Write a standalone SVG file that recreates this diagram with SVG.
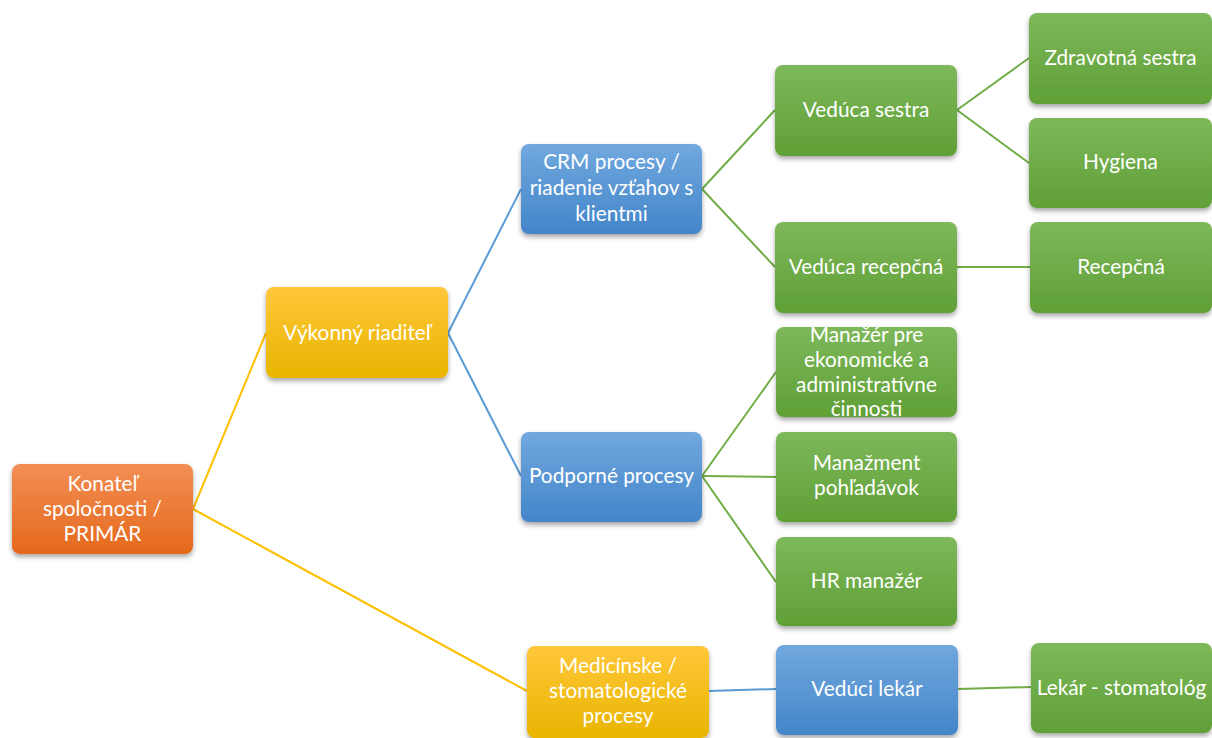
<svg xmlns="http://www.w3.org/2000/svg" width="1212" height="738" viewBox="0 0 1212 738">
<defs>
<linearGradient id="gOrange" x1="0" y1="0" x2="0" y2="1"><stop offset="0" stop-color="#F28E54"/><stop offset="1" stop-color="#E5691C"/></linearGradient>
<linearGradient id="gYellow" x1="0" y1="0" x2="0" y2="1"><stop offset="0" stop-color="#FFC73A"/><stop offset="1" stop-color="#E9B500"/></linearGradient>
<linearGradient id="gBlue" x1="0" y1="0" x2="0" y2="1"><stop offset="0" stop-color="#71A8DE"/><stop offset="1" stop-color="#4385C9"/></linearGradient>
<linearGradient id="gGreen" x1="0" y1="0" x2="0" y2="1"><stop offset="0" stop-color="#7DB85B"/><stop offset="1" stop-color="#60A036"/></linearGradient>
<filter id="sh" x="-10%" y="-10%" width="120%" height="130%"><feDropShadow dx="0" dy="3" stdDeviation="2.5" flood-color="#000" flood-opacity="0.35"/></filter>
</defs>
<style>
.box{filter:url(#sh);}
.o{fill:url(#gOrange);}
.y{fill:url(#gYellow);}
.b{fill:url(#gBlue);}
.g{fill:url(#gGreen);}
text{font-family:Lato,"Liberation Sans",sans-serif;font-size:20.8px;fill:#fff;text-anchor:middle;}
.c{fill:none;stroke-width:2;}
.cy{stroke:#FFC000;}
.cb{stroke:#5B9BD5;}
.cg{stroke:#70AD47;}
</style>
<rect width="1212" height="738" fill="#fff"/>
<g id="connectors">
<path class="c cy" d="M193,509 L266,333"/>
<path class="c cy" d="M193,509 L527,691"/>
<path class="c cb" d="M448,333 L521,189"/>
<path class="c cb" d="M448,333 L521,476"/>
<path class="c cb" d="M709,691 L776,689"/>
<path class="c cg" d="M702,189 L775,110"/>
<path class="c cg" d="M702,189 L775,267"/>
<path class="c cg" d="M957,110 L1029,58"/>
<path class="c cg" d="M957,110 L1029,163"/>
<path class="c cg" d="M957,267 L1030,267"/>
<path class="c cg" d="M702,476 L776,372"/>
<path class="c cg" d="M702,476 L776,477"/>
<path class="c cg" d="M702,476 L776,582"/>
<path class="c cg" d="M958,689 L1031,687"/>
</g>
<g id="n_konatel"><rect class="box o" x="12" y="464" width="181" height="90" rx="8"/><text x="102.5" y="491">Konateľ</text><text x="102.5" y="516">spoločnosti /</text><text x="102.5" y="541">PRIMÁR</text></g>
<g id="n_vykonny"><rect class="box y" x="266" y="287" width="182" height="91" rx="8"/><text x="357" y="340">Výkonný riaditeľ</text></g>
<g id="n_crm"><rect class="box b" x="521" y="144" width="181" height="90" rx="8"/><text x="611.5" y="169">CRM procesy /</text><text x="611.5" y="195">riadenie vzťahov s</text><text x="611.5" y="221">klientmi</text></g>
<g id="n_podporne"><rect class="box b" x="521" y="432" width="181" height="90" rx="8"/><text x="611.5" y="483">Podporné procesy</text></g>
<g id="n_medicinske"><rect class="box y" x="527" y="646" width="182" height="92" rx="8"/><text x="618" y="673">Medicínske /</text><text x="618" y="698">stomatologické</text><text x="618" y="723">procesy</text></g>
<g id="n_veduca_sestra"><rect class="box g" x="775" y="65" width="182" height="91" rx="8"/><text x="866" y="117">Vedúca sestra</text></g>
<g id="n_zdravotna"><rect class="box g" x="1029" y="13" width="183" height="91" rx="8"/><text x="1120.5" y="65">Zdravotná sestra</text></g>
<g id="n_hygiena"><rect class="box g" x="1029" y="118" width="183" height="90" rx="8"/><text x="1120.5" y="169">Hygiena</text></g>
<g id="n_veduca_recepcna"><rect class="box g" x="775" y="222" width="182" height="91" rx="8"/><text x="866" y="274">Vedúca recepčná</text></g>
<g id="n_recepcna"><rect class="box g" x="1030" y="222" width="182" height="91" rx="8"/><text x="1121" y="274">Recepčná</text></g>
<g id="n_manazer_ek"><rect class="box g" x="776" y="327" width="181" height="90" rx="8"/><text x="866.5" y="342">Manažér pre</text><text x="866.5" y="367">ekonomické a</text><text x="866.5" y="392">administratívne</text><text x="866.5" y="416">činnosti</text></g>
<g id="n_manazment"><rect class="box g" x="776" y="432" width="181" height="90" rx="8"/><text x="866.5" y="470">Manažment</text><text x="866.5" y="495">pohľadávok</text></g>
<g id="n_hr"><rect class="box g" x="776" y="537" width="181" height="89" rx="8"/><text x="866.5" y="588">HR manažér</text></g>
<g id="n_veduci_lekar"><rect class="box b" x="776" y="645" width="182" height="90" rx="8"/><text x="867" y="696">Vedúci lekár</text></g>
<g id="n_lekar"><rect class="box g" x="1031" y="643" width="181" height="90" rx="8"/><text x="1121.5" y="695">Lekár - stomatológ</text></g>
</svg>
